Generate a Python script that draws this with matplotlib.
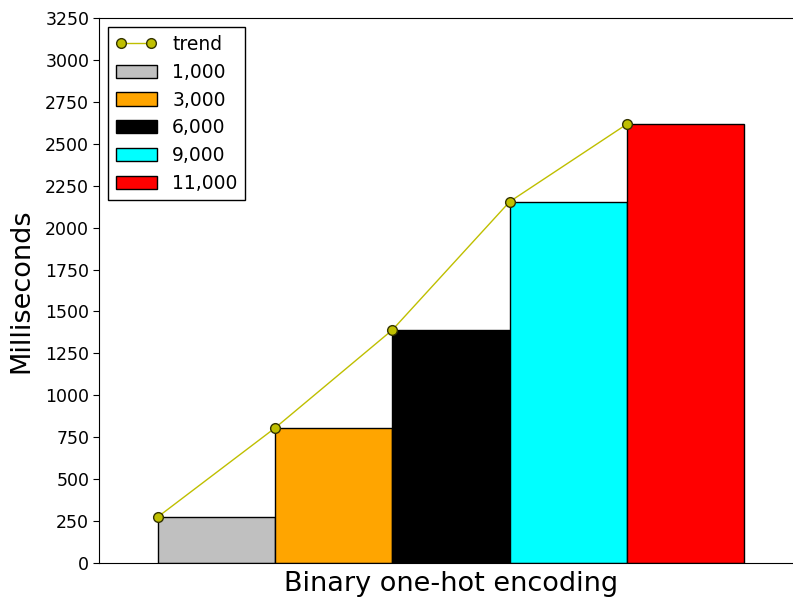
import matplotlib
matplotlib.use("Agg")
import matplotlib.pyplot as plt
import numpy as np

# values
sizes = ["1,000", "3,000", "6,000", "9,000", "11,000"]
millis = [274, 805, 1390, 2155, 2618]
colors = ["silver", "orange", "black", "cyan", "red"]
yticks = list(range(0, 3251, 250))

plt.rcParams['font.family'] = 'DejaVu Sans'

fig = plt.figure(figsize=(7.93, 6.07), dpi=100)
# right edge of the axes runs past the figure, like the reference
ax = fig.add_axes([0.1248, 0.0725, 0.888, 0.8978])
ax.spines['right'].set_visible(False)

x = np.arange(len(millis))
ax.plot(x, millis, color=(0.75, 0.75, 0), marker='o', markersize=7,
        markerfacecolor=(0.75, 0.75, 0), markeredgecolor='#333300',
        linewidth=1, label='trend', zorder=3)
for i in range(len(millis)):
    ax.bar(x[i], millis[i], width=1.0, align='edge', color=colors[i],
           edgecolor='black', linewidth=1, label=sizes[i], zorder=2)

ax.set_xlim(-0.5, 5.5)
ax.set_ylim(0, 3250)
ax.set_xticks([])
ax.set_yticks(yticks)
ax.tick_params(axis='y', direction='out', length=4, labelsize=12.5, pad=3)
ax.set_ylabel("Milliseconds", fontsize=19.5, labelpad=8)
ax.set_xlabel("Binary one-hot encoding", fontsize=19.5, labelpad=6)

leg = ax.legend(loc='upper left', fontsize=13.5, numpoints=2,
                fancybox=False, edgecolor='black', framealpha=1,
                borderaxespad=0.5, handlelength=2.2, labelspacing=0.47)
leg.get_frame().set_linewidth(1)

fig.savefig("out.png", dpi=100, facecolor='white')
